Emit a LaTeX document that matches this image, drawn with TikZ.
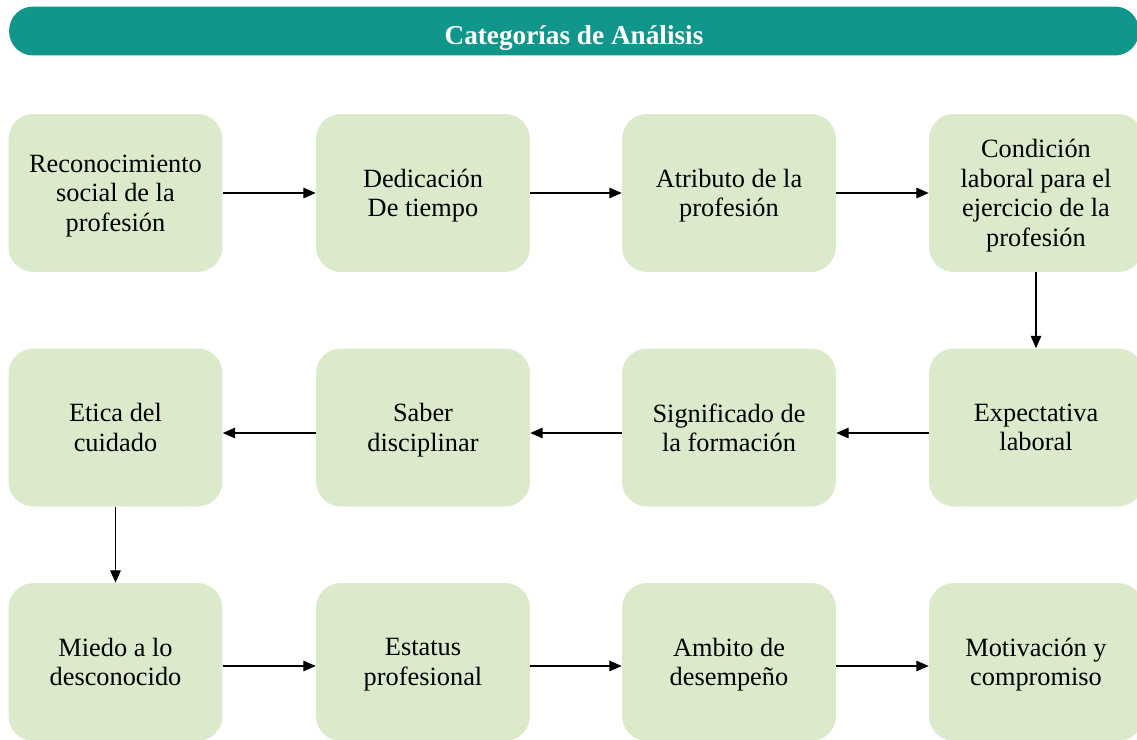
\documentclass[tikz,border=0pt]{standalone}
\usepackage{fontspec}
\setmainfont{Liberation Serif}
\usetikzlibrary{arrows.meta}
\definecolor{tealbar}{HTML}{10968A}
\definecolor{boxgreen}{HTML}{DAEACB}
\tikzset{
  cat/.style={fill=boxgreen, rounded corners=0.5cm, minimum width=4.28cm, minimum height=3.16cm, align=center, font=\fontsize{15}{16.8}\selectfont, inner sep=2pt, text depth=-4pt},
  flow/.style={-{Triangle[length=7pt,width=6pt]}, line width=0.6pt}
}
\begin{document}
\begin{tikzpicture}[x=0.02cm,y=-0.02cm]
\useasboundingbox (0,0) rectangle (1137,740);
\clip (0,0) rectangle (1137,740);
\node[fill=tealbar, rounded corners=0.48cm, minimum width=22.6cm, minimum height=0.96cm, text=white, text height=18pt, text depth=3.2pt, font=\bfseries\fontsize{15.5}{18}\selectfont] (title) at (574,31){Categorías de Análisis};
\node[cat] (recon) at (115.5,193){Reconocimiento\\social de la\\profesión};
\node[cat] (dedic) at (423,193){Dedicación\\De tiempo};
\node[cat] (atrib) at (729,193){Atributo de la\\profesión};
\node[cat] (condic) at (1036,193){Condición\\laboral para el\\ejercicio de la\\profesión};
\draw[flow](recon) -- (dedic);
\draw[flow](dedic) -- (atrib);
\draw[flow](atrib) -- (condic);
\node[cat] (expect) at (1036,427.5){Expectativa\\laboral};
\node[cat] (signif) at (729,427.5){Significado de\\la formación};
\node[cat] (saber) at (423,427.5){Saber\\disciplinar};
\node[cat] (etica) at (115.5,427.5){Etica del\\cuidado};
\draw[flow](condic) -- (expect);
\draw[flow]([yshift=-0.11cm]expect.west) -- ([yshift=-0.11cm]signif.east);
\draw[flow]([yshift=-0.11cm]signif.west) -- ([yshift=-0.11cm]saber.east);
\draw[flow]([yshift=-0.11cm]saber.west) -- ([yshift=-0.11cm]etica.east);
\node[cat] (miedo) at (115.5,662){Miedo a lo\\desconocido};
\node[cat] (estatus) at (423,662){Estatus\\profesional};
\node[cat] (ambito) at (729,662){Ambito de\\desempeño};
\node[cat] (motiv) at (1036,662){Motivación y\\compromiso};
\draw[flow](etica) -- (miedo);
\draw[flow]([yshift=-0.08cm]miedo.east) -- ([yshift=-0.08cm]estatus.west);
\draw[flow]([yshift=-0.08cm]estatus.east) -- ([yshift=-0.08cm]ambito.west);
\draw[flow]([yshift=-0.08cm]ambito.east) -- ([yshift=-0.08cm]motiv.west);
\end{tikzpicture}
\end{document}
